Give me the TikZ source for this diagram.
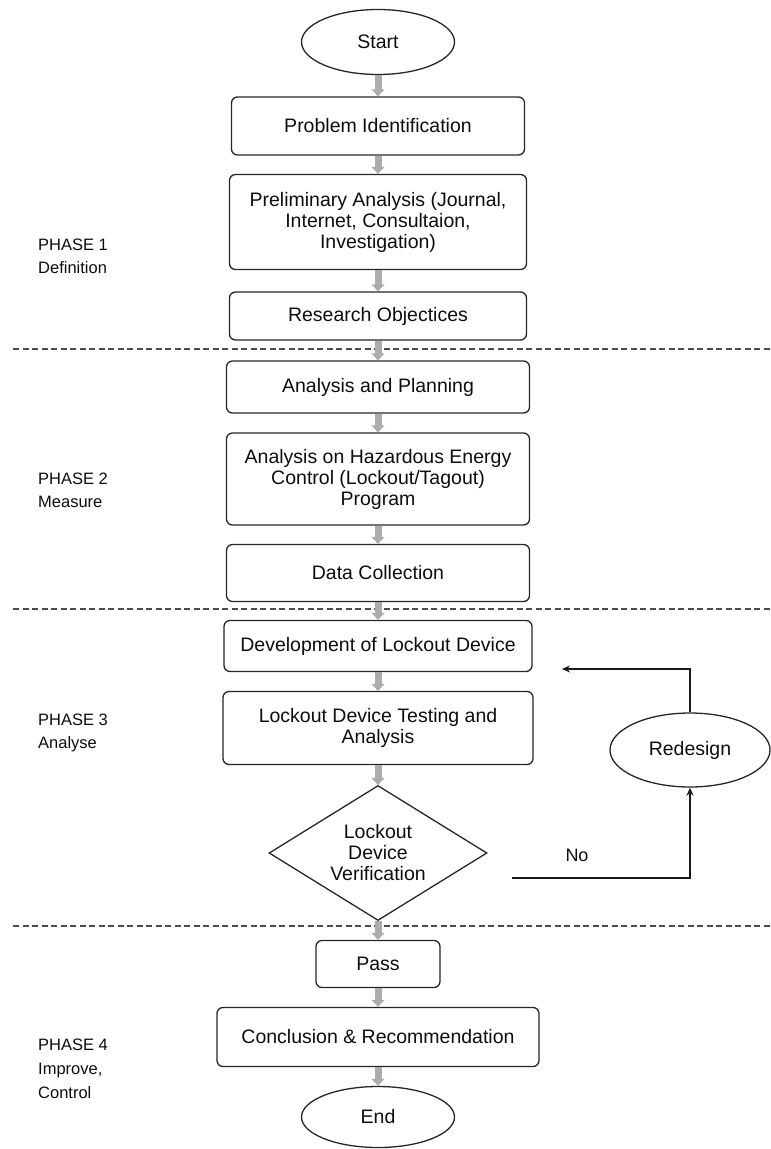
\documentclass[tikz,border=0pt]{standalone}
\usepackage{fontspec}
\setmainfont{Liberation Sans}
\usetikzlibrary{shapes.geometric,arrows.meta}
\begin{document}
\begin{tikzpicture}[x=1pt,y=-1pt,
  box/.style={draw=black!85, line width=1.3pt, rounded corners=6pt, align=center,
    text=black!95, font=\fontsize{19.5}{21}\selectfont, inner sep=0pt},
  term/.style={draw=black!85, line width=1.3pt, ellipse, align=center,
    text=black!95, font=\fontsize{19.5}{21}\selectfont, inner sep=0pt},
  decision/.style={draw=black!85, line width=1.3pt, diamond, align=center,
    text=black!95, font=\fontsize{19.5}{21}\selectfont, inner sep=0pt},
  phase/.style={anchor=west, align=left, inner sep=0pt, text=black!95,
    font=\fontsize{16.5}{23}\selectfont},
  flow/.style={line width=7pt, draw=gray!65, -{Triangle[length=7pt,width=13pt]}},
  looparrow/.style={draw=black!90, line width=1.3pt, -{Stealth[length=8pt,width=7pt]}},
  sep/.style={draw=black!70, line width=1.3pt, dash pattern=on 6pt off 3.5pt}
]
\useasboundingbox (0,0) rectangle (771,1149);

% separators
\draw[sep] (13,349) -- (771,349);
\draw[sep] (13,609) -- (771,609);
\draw[sep] (13,926) -- (771,926);

% phase labels
\node[phase] (ph1) at (38,256) {PHASE 1\\Definition};
\node[phase] (ph2) at (38,490) {PHASE 2\\Measure};
\node[phase] (ph3) at (38,733) {PHASE 3\\Analyse};
\node[phase, font=\fontsize{16.5}{24}\selectfont] (ph4) at (38,1069) {PHASE 4\\Improve,\\Control};

% main flow
\node[term, minimum width=153pt, minimum height=65pt] (start) at (378,42) {Start};
\node[box, minimum width=293pt, minimum height=58pt] (prob) at (378,126) {Problem Identification};
\node[box, minimum width=297pt, minimum height=95pt] (prelim) at (378,222)
  {Preliminary Analysis (Journal,\\Internet, Consultaion,\\Investigation)};
\node[box, minimum width=297pt, minimum height=48pt] (obj) at (378,316) {Research Objectices};
\node[box, minimum width=303pt, minimum height=52pt] (plan) at (378,387) {Analysis and Planning};
\node[box, minimum width=303pt, minimum height=92pt] (haz) at (378,479)
  {Analysis on Hazardous Energy\\Control (Lockout/Tagout)\\Program};
\node[box, minimum width=303pt, minimum height=57pt] (data) at (378,573) {Data Collection};
\node[box, minimum width=308pt, minimum height=51pt] (dev) at (378,646) {Development of Lockout Device};
\node[box, minimum width=310pt, minimum height=73pt] (test) at (378,728)
  {Lockout Device Testing and\\Analysis};
\node[decision, minimum width=218pt, minimum height=135pt, aspect=1.6] (verif) at (378,853)
  {Lockout\\Device\\Verification};
\node[box, minimum width=124pt, minimum height=47pt] (pass) at (378,964) {Pass};
\node[box, minimum width=322pt, minimum height=59pt] (concl) at (378,1037) {Conclusion \& Recommendation};
\node[term, minimum width=153pt, minimum height=61pt] (end) at (378,1117) {End};

% redesign loop
\node[term, minimum width=160pt, minimum height=74pt] (redesign) at (690,750) {Redesign};
\node[inner sep=0pt, text=black!95, font=\fontsize{18}{20}\selectfont] (no) at (577,855) {No};
\coordinate (nostart) at (512,878);
\coordinate (backend) at (562,669);

\draw[flow] (start) -- (prob);
\draw[flow] (prob) -- (prelim);
\draw[flow] (prelim) -- (obj);
\draw[flow] (obj) -- (plan);
\draw[flow] (plan) -- (haz);
\draw[flow] (haz) -- (data);
\draw[flow] (data) -- (dev);
\draw[flow] (dev) -- (test);
\draw[flow] (test) -- (verif);
\draw[flow] (verif) -- (pass);
\draw[flow] (pass) -- (concl);
\draw[flow] (concl) -- (end);

\draw[looparrow] (nostart) -| (redesign.south);
\draw[looparrow] (redesign.north) |- (backend);
\end{tikzpicture}
\end{document}
